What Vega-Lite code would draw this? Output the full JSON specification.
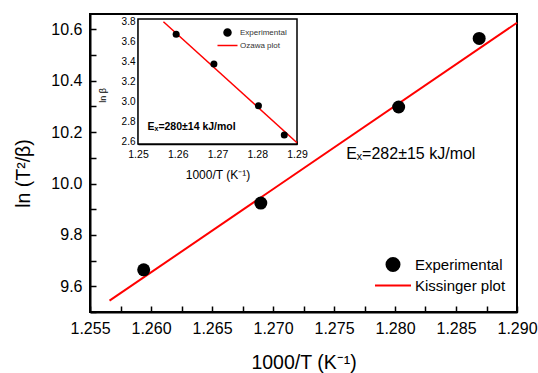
{
  "$schema": "https://vega.github.io/schema/vega-lite/v6.json",
  "width": 427,
  "height": 298,
  "autosize": {"type": "none"},
  "padding": {"left": 90, "top": 14, "right": 21, "bottom": 61},
  "background": "white",
  "config": {
    "view": {"stroke": "black", "strokeWidth": 2},
    "font": "Liberation Sans",
    "axis": {
      "grid": false,
      "labelFont": "Liberation Sans",
      "titleFont": "Liberation Sans",
      "labelColor": "black",
      "titleColor": "black",
      "titleFontWeight": "normal",
      "tickColor": "black",
      "domainColor": "black",
      "labelOverlap": false,
      "labelFlush": false,
      "tickCount": 100
    },
    "legend": {"labelFont": "Liberation Sans", "padding": 0}
  },
  "datasets": {
    "main_points": [
      {"x": 1.2594, "y": 9.664, "series": "Experimental"},
      {"x": 1.2690, "y": 9.924, "series": "Experimental"},
      {"x": 1.2803, "y": 10.298, "series": "Experimental"},
      {"x": 1.2869, "y": 10.565, "series": "Experimental"}
    ],
    "main_fit": [
      {"x": 1.2566, "y": 9.544, "series": "Kissinger plot"},
      {"x": 1.2900, "y": 10.626, "series": "Kissinger plot"}
    ],
    "inset_points": [
      {"x": 1.2596, "y": 3.668, "series": "Experimental"},
      {"x": 1.2691, "y": 3.373, "series": "Experimental"},
      {"x": 1.2803, "y": 2.960, "series": "Experimental"},
      {"x": 1.2868, "y": 2.669, "series": "Experimental"}
    ],
    "inset_fit": [
      {"x": 1.2564, "y": 3.793, "series": "Ozawa plot"},
      {"x": 1.2900, "y": 2.593, "series": "Ozawa plot"}
    ],
    "main_note": [{"label": "Eₓ=282±15 kJ/mol"}],
    "inset_note": [{"label": "Eₓ=280±14 kJ/mol"}],
    "inset_frame": [{"part": "frame"}]
  },
  "layer": [
    {
      "layer": [
        {
          "data": {"name": "main_fit"},
          "mark": {"type": "line", "strokeWidth": 2},
          "encoding": {
            "x": {
              "field": "x", "type": "quantitative",
              "scale": {"domain": [1.255, 1.29], "zero": false, "nice": false},
              "axis": {
                "orient": "bottom",
                "title": "1000/T (K⁻¹)",
                "titleFontSize": 19.5,
                "titlePadding": 17,
                "labelFontSize": 16,
                "labelPadding": 14,
                "tickSize": -6,
                "tickWidth": 1.5,
                "domainWidth": 2,
                "tickCount": 100,
                "values": [1.255, 1.2575, 1.26, 1.2625, 1.265, 1.2675, 1.27, 1.2725, 1.275, 1.2775, 1.28, 1.2825, 1.285, 1.2875, 1.29],
                "labelExpr": "round(datum.value*10000) % 50 == 0 ? format(datum.value, '.3f') : ''"
              }
            },
            "y": {
              "field": "y", "type": "quantitative",
              "scale": {"domain": [9.5, 10.66], "zero": false, "nice": false},
              "axis": {
                "orient": "left",
                "title": "ln (T²/β)",
                "titleFontSize": 19.5,
                "titlePadding": 17,
                "titleY": 159,
                "labelFontSize": 16,
                "labelPadding": 14,
                "tickSize": -6,
                "tickWidth": 1.5,
                "domainWidth": 2,
                "tickCount": 100,
                "values": [9.5, 9.6, 9.7, 9.8, 9.9, 10.0, 10.1, 10.2, 10.3, 10.4, 10.5, 10.6],
                "labelExpr": "round(datum.value*10) % 2 == 0 ? format(datum.value, '.1f') : ''"
              }
            },
            "color": {
              "field": "series", "type": "nominal",
              "scale": {"domain": ["Experimental", "Kissinger plot"], "range": ["black", "red"]},
              "legend": {
                "title": null,
                "orient": "none",
                "legendX": 295.5,
                "legendY": 243,
                "symbolSize": 169,
                "labelFontSize": 15,
                "labelColor": "black",
                "labelOffset": 14.5,
                "rowPadding": 3,
                "encode": {
                  "symbols": {
                    "update": {
                      "shape": {"signal": "datum.value === 'Experimental' ? 'circle' : 'M-2.77,0H2.77'"},
                      "size": {"value": 169},
                      "fill": {"signal": "datum.value === 'Experimental' ? 'black' : 'transparent'"},
                      "stroke": {"signal": "datum.value === 'Experimental' ? 'transparent' : 'red'"},
                      "strokeWidth": {"value": 2},
                      "opacity": {"value": 1}
                    }
                  }
                }
              }
            }
          }
        },
        {
          "data": {"name": "main_points"},
          "mark": {"type": "point", "filled": true, "size": 169, "opacity": 1},
          "encoding": {
            "x": {"field": "x", "type": "quantitative"},
            "y": {"field": "y", "type": "quantitative"},
            "color": {"field": "series", "type": "nominal"}
          }
        },
        {
          "data": {"name": "main_note"},
          "mark": {"type": "text", "align": "left", "baseline": "middle", "fontSize": 16, "color": "black"},
          "encoding": {
            "x": {"datum": 1.2760, "type": "quantitative"},
            "y": {"datum": 10.115, "type": "quantitative"},
            "text": {"field": "label"}
          }
        }
      ]
    },
    {
      "layer": [
        {
          "data": {"name": "inset_frame"},
          "mark": {"type": "rect", "fill": "white", "stroke": "black", "strokeWidth": 1.5},
          "encoding": {
            "x": {"datum": 1.25, "type": "quantitative"},
            "x2": {"datum": 1.29},
            "y": {"datum": 2.58, "type": "quantitative"},
            "y2": {"datum": 3.82}
          }
        },
        {
          "data": {"name": "inset_fit"},
          "mark": {"type": "line", "strokeWidth": 1.5},
          "encoding": {
            "x": {
              "field": "x", "type": "quantitative",
              "scale": {"domain": [1.25, 1.29], "range": [48, 207], "zero": false, "nice": false},
              "axis": {
                "orient": "bottom",
                "offset": -168,
                "title": "1000/T (K⁻¹)",
                "titleFontSize": 12,
                "titlePadding": 10,
                "labelFontSize": 10.5,
                "labelPadding": 8,
                "tickSize": -3,
                "tickWidth": 1,
                "domainWidth": 1.5,
                "tickCount": 100,
                "values": [1.25, 1.255, 1.26, 1.265, 1.27, 1.275, 1.28, 1.285, 1.29],
                "labelExpr": "round(datum.value*1000) % 10 == 0 ? format(datum.value, '.2f') : ''"
              }
            },
            "y": {
              "field": "y", "type": "quantitative",
              "scale": {"domain": [2.58, 3.82], "range": [130, 5], "zero": false, "nice": false},
              "axis": {
                "orient": "left",
                "offset": -48,
                "title": "ln β",
                "titleFontSize": 9,
                "titlePadding": 14,
                "titleY": 81,
                "labelFontSize": 10,
                "labelPadding": 6,
                "tickSize": -3,
                "tickWidth": 1,
                "domainWidth": 1.5,
                "tickCount": 100,
                "values": [2.6, 2.7, 2.8, 2.9, 3.0, 3.1, 3.2, 3.3, 3.4, 3.5, 3.6, 3.7, 3.8],
                "labelExpr": "round(datum.value*10) % 2 == 0 ? format(datum.value, '.1f') : ''"
              }
            },
            "color": {
              "field": "series", "type": "nominal",
              "scale": {"domain": ["Experimental", "Ozawa plot"], "range": ["black", "red"]},
              "legend": {
                "title": null,
                "orient": "none",
                "legendX": 133,
                "legendY": 14,
                "symbolSize": 49,
                "labelFontSize": 8,
                "labelColor": "#333333",
                "labelOffset": 8,
                "rowPadding": 2,
                "encode": {
                  "symbols": {
                    "update": {
                      "shape": {"signal": "datum.value === 'Experimental' ? 'circle' : 'M-2.86,0H2.86'"},
                      "size": {"value": 49},
                      "fill": {"signal": "datum.value === 'Experimental' ? 'black' : 'transparent'"},
                      "stroke": {"signal": "datum.value === 'Experimental' ? 'transparent' : 'red'"},
                      "strokeWidth": {"value": 1.5},
                      "opacity": {"value": 1}
                    }
                  }
                }
              }
            }
          }
        },
        {
          "data": {"name": "inset_points"},
          "mark": {"type": "point", "filled": true, "size": 49, "opacity": 1},
          "encoding": {
            "x": {"field": "x", "type": "quantitative"},
            "y": {"field": "y", "type": "quantitative"},
            "color": {"field": "series", "type": "nominal"}
          }
        },
        {
          "data": {"name": "inset_note"},
          "mark": {"type": "text", "align": "left", "baseline": "middle", "fontSize": 10.5, "fontWeight": "bold", "color": "black"},
          "encoding": {
            "x": {"datum": 1.2524, "type": "quantitative"},
            "y": {"datum": 2.748, "type": "quantitative"},
            "text": {"field": "label"}
          }
        }
      ]
    }
  ],
  "resolve": {"scale": {"x": "independent", "y": "independent", "color": "independent"}}
}
